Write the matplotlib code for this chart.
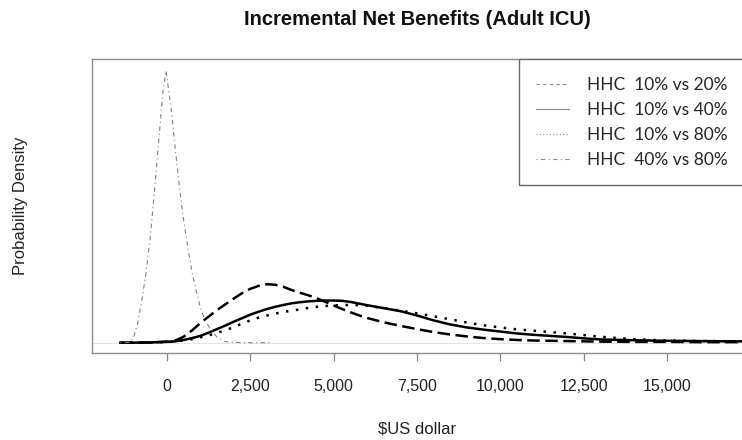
import matplotlib
matplotlib.use("Agg")
import matplotlib.pyplot as plt
from matplotlib.lines import Line2D

plt.rcParams['font.family'] = ['Liberation Sans', 'DejaVu Sans']

# incremental net benefit ($US) and relative density
nb_x = [-1400, -1000, -500, 0, 250, 500, 750, 1000, 1250, 1500, 1750, 2000,
        2250, 2500, 2750, 3000, 3250, 3500, 3750, 4000, 4250, 4500, 4750,
        5000, 5250, 5500, 5750, 6000, 6500, 7000, 7500, 8000, 8500, 9000,
        9500, 10000, 10500, 11000, 11500, 12000, 12500, 13000, 14000, 15000,
        16000, 17250]

dens_10_20 = [0.0, 0.0, 0.001, 0.004, 0.008, 0.022, 0.045, 0.072, 0.096, 0.12,
              0.141, 0.162, 0.182, 0.198, 0.209, 0.215, 0.213, 0.205, 0.193,
              0.183, 0.174, 0.163, 0.15, 0.137, 0.124, 0.112, 0.101, 0.091,
              0.075, 0.062, 0.05, 0.039, 0.03, 0.023, 0.017, 0.013, 0.01,
              0.008, 0.007, 0.006, 0.005, 0.004, 0.003, 0.003, 0.002, 0.002]

dens_10_40 = [0.0, 0.0, 0.001, 0.003, 0.005, 0.01, 0.017, 0.025, 0.037, 0.05,
              0.063, 0.077, 0.09, 0.103, 0.114, 0.124, 0.132, 0.139, 0.145,
              0.149, 0.152, 0.154, 0.155, 0.155, 0.154, 0.15, 0.144, 0.138,
              0.127, 0.116, 0.1, 0.082, 0.067, 0.056, 0.048, 0.041, 0.034,
              0.029, 0.025, 0.021, 0.016, 0.012, 0.009, 0.007, 0.006, 0.005]

dens_10_80 = [0.0, 0.0, 0.0, 0.003, 0.005, 0.009, 0.013, 0.02, 0.027, 0.036,
              0.046, 0.057, 0.07, 0.082, 0.092, 0.1, 0.107, 0.113, 0.118,
              0.123, 0.128, 0.132, 0.135, 0.137, 0.138, 0.139, 0.138, 0.136,
              0.127, 0.118, 0.108, 0.097, 0.086, 0.074, 0.064, 0.056, 0.049,
              0.044, 0.039, 0.034, 0.028, 0.022, 0.013, 0.008, 0.006, 0.005]

x_40_80 = [-1400, -1250, -1100, -1000, -875, -750, -625, -500, -375, -250,
           -125, -30, 125, 250, 375, 500, 625, 750, 875, 1000, 1125, 1250,
           1500, 1750, 2000, 2500, 3150]
dens_40_80 = [0.0, 0.0, 0.002, 0.02, 0.075, 0.16, 0.26, 0.39, 0.56, 0.74,
              0.92, 1.0, 0.86, 0.71, 0.57, 0.45, 0.35, 0.26, 0.19, 0.13,
              0.088, 0.06, 0.02, 0.004, 0.001, 0.0, 0.0]

labels = ['HHC  10% vs 20%', 'HHC  10% vs 40%', 'HHC  10% vs 80%', 'HHC  40% vs 80%']
ticks = [0, 2500, 5000, 7500, 10000, 12500, 15000]

W, H = 742, 440
fig = plt.figure(figsize=(W / 100, H / 100), dpi=100)
ax = fig.add_axes([92 / W, (H - 352.7) / H, 650 / W, (352.7 - 59.3) / H])

ax.axhline(0, color='#e4e4e4', lw=0.8, zorder=0)
ax.plot(nb_x, dens_10_20, color='black', lw=1.8, dashes=(5, 2.2))
ax.plot(nb_x, dens_10_40, color='black', lw=1.8)
ax.plot(nb_x, dens_10_80, color='black', lw=1.8, dashes=(1, 3))
ax.plot(x_40_80, dens_40_80, color='#808080', lw=0.8, dashes=(1, 3, 4, 3))

ax.set_xlim(-2250, 17250)
ax.set_ylim(-10 / 272, 283.4 / 272)
ax.set_yticks([])
ax.set_xticks(ticks)
ax.set_xticklabels(['{:,}'.format(t) for t in ticks], fontsize=11.5, color='#222222')
ax.tick_params(axis='x', length=5.8, width=0.9, color='#888888', pad=13)
for s in ['left', 'top', 'bottom']:
    ax.spines[s].set_color('#8c8c8c')
    ax.spines[s].set_linewidth(1.0)
ax.spines['right'].set_visible(False)

gray = '#8a8a8a'
handles = [Line2D([], [], color=gray, lw=0.8, dashes=(3, 3)),
           Line2D([], [], color=gray, lw=0.8),
           Line2D([], [], color=gray, lw=0.8, dashes=(1, 2)),
           Line2D([], [], color=gray, lw=0.8, dashes=(1, 3, 4, 3))]
leg = ax.legend(handles, labels, loc='upper left', mode='expand',
                bbox_to_anchor=(427 / 650, 0, 0.4, 1.0), borderaxespad=0,
                prop={'family': 'Lato', 'size': 12.5}, labelcolor='#262626',
                fancybox=False, framealpha=1, edgecolor='#666666',
                borderpad=1.0, labelspacing=0.52, handlelength=1.9,
                handletextpad=1.0)
leg.get_frame().set_linewidth(1.0)

fig.text(417 / W, 1 - 25 / H, 'Incremental Net Benefits (Adult ICU)',
         ha='center', va='baseline', fontsize=14.5, fontweight='bold', color='#111111')
fig.text(417 / W, 1 - 433.5 / H, '$US dollar', ha='center', va='baseline',
         fontsize=12, color='#222222')
fig.text(21 / W, 1 - 206 / H, 'Probability Density', ha='center', va='center',
         rotation=90, fontsize=12, color='#222222')

fig.savefig('out.png', dpi=100)
